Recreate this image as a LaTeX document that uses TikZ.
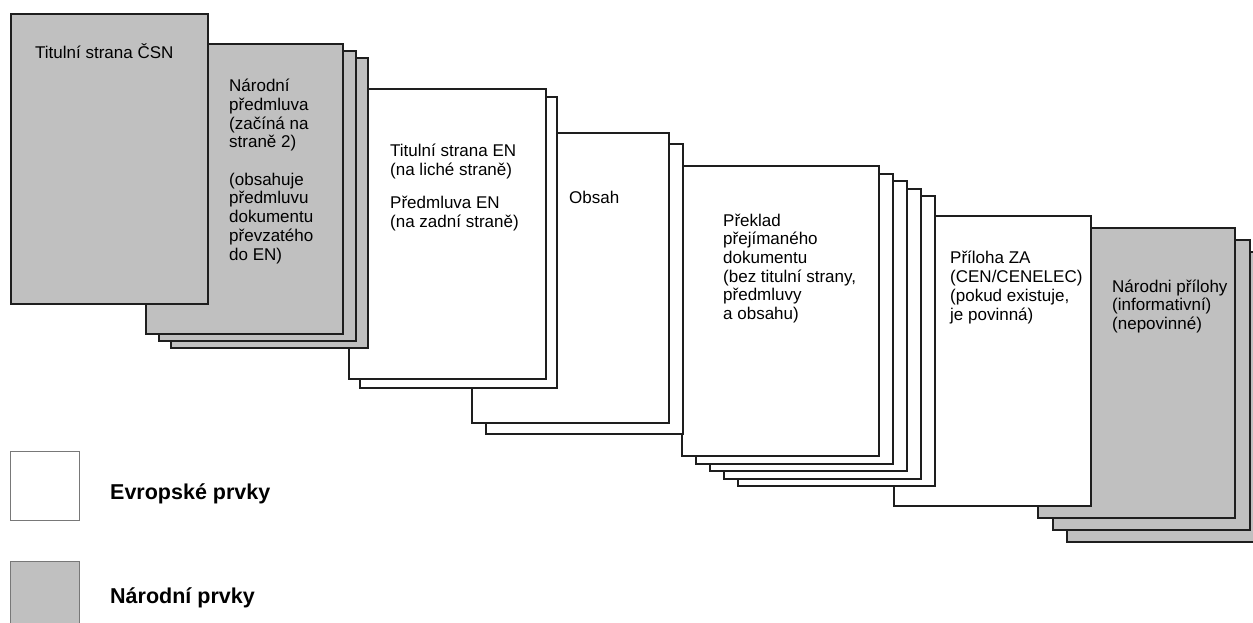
\documentclass[tikz,border=0pt]{standalone}
\usepackage{fontspec}
\setmainfont{Liberation Sans}
\definecolor{natgray}{RGB}{192,192,192}
\definecolor{edge}{RGB}{30,30,30}
\definecolor{legedge}{RGB}{120,120,120}
\tikzset{
  pagebox/.style={draw=edge, line width=2pt, rectangle, inner sep=0pt,
    minimum width=197pt, minimum height=290pt, anchor=north west},
  pagetext/.style={anchor=base west, inner sep=0pt, align=left,
    font=\fontsize{17}{18.7}\selectfont},
  legbox/.style={draw=legedge, line width=1.2pt, rectangle, inner sep=0pt,
    minimum width=69pt, minimum height=69pt, anchor=north west},
  legtext/.style={anchor=base west, inner sep=0pt,
    font=\fontsize{21.5}{24}\selectfont\bfseries}
}
\newcommand\pg[4]{\node[pagebox, fill=#4] (#1) at (#2,#3) {};}
\begin{document}
\begin{tikzpicture}[x=1pt,y=-1pt]
\clip (0,0) rectangle (1253,623);
\fill[white] (0,0) rectangle (1253,623);
% Narodni prilohy stack
\pg{np3}{1066}{251}{natgray}
\pg{np2}{1051.5}{239}{natgray}
\pg{np1}{1037}{227}{natgray}
% Priloha ZA
\pg{za}{893}{215}{white}
% Preklad stack
\pg{pr5}{737}{195}{white}
\pg{pr4}{723}{187.6}{white}
\pg{pr3}{709}{180.2}{white}
\pg{pr2}{695}{172.8}{white}
\pg{pr1}{681}{165}{white}
% Obsah stack
\pg{ob2}{485}{143}{white}
\pg{ob1}{471}{132}{white}
% Titulni strana EN stack
\pg{en2}{359}{96.5}{white}
\pg{en1}{348}{88}{white}
% Narodni predmluva stack
\pg{nf3}{170}{57}{natgray}
\pg{nf2}{157.5}{50}{natgray}
\pg{nf1}{145}{43}{natgray}
% Titulni strana CSN
\pg{csn}{10}{13}{natgray}
% texts (anchor = baseline of the last line)
\node[pagetext] (tcsn) at (35,59) {Titulní strana ČSN};
\node[pagetext] (tnf) at (229,260) {Národní\\předmluva\\(začíná na\\straně 2)\\[18.7pt](obsahuje\\předmluvu\\dokumentu\\převzatého\\do EN)};
\node[pagetext] (ten) at (390,227) {Titulní strana EN\\(na liché straně)\\[14pt]Předmluva EN\\(na zadní straně)};
\node[pagetext] (tob) at (569,203) {Obsah};
\node[pagetext] (tpr) at (723,319.5) {Překlad\\přejímaného\\dokumentu\\(bez titulní strany,\\předmluvy\\a obsahu)};
\node[pagetext] (tza) at (950,320) {Příloha ZA\\(CEN/CENELEC)\\(pokud existuje,\\je povinná)};
\node[pagetext] (tnp) at (1112,329.5) {Národni přílohy\\(informativní)\\(nepovinné)};
% legend
\node[legbox, fill=white] (lege) at (10,451) {};
\node[legbox, fill=natgray] (legn) at (10,561) {};
\node[legtext] (legte) at (110,499) {Evropské prvky};
\node[legtext] (legtn) at (110,603) {Národní prvky};
\end{tikzpicture}
\end{document}
